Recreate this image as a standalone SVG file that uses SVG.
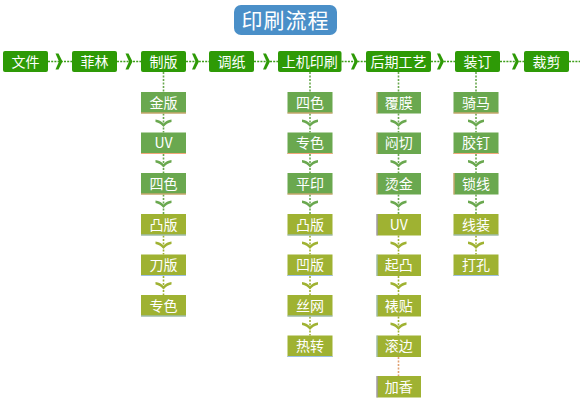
<svg xmlns="http://www.w3.org/2000/svg" width="580" height="416" viewBox="0 0 580 416">
<style>
text{font-family:"Noto Sans CJK SC","Liberation Sans",sans-serif;fill:#fff;text-anchor:middle;font-size:14px}
.top{fill:#2e9a06}
.g{fill:#6aa84f}
.o{fill:#9fb232}
.gb{stroke:#f2a67a;stroke-width:1}
.ob{stroke:#9cc0e4;stroke-width:1}
.hl{stroke:#3e9e1a;stroke-width:1.6;stroke-dasharray:2 1.2;fill:none}
.vl{stroke:#6aa84f;stroke-width:1.6;stroke-dasharray:2 1.5;fill:none}
.vlo{stroke:#9fb232;stroke-width:1.6;stroke-dasharray:2 1.5;fill:none}
.vlr{stroke:#e0a070;stroke-width:1.6;stroke-dasharray:2 1.5;fill:none}
.hc{fill:#2e9a06}
.cg{fill:#6aa84f}
.co{fill:#9fb232}
</style>
<defs>
<path id="hch" d="M0,-8 L3,-8 L7,0 L3,8 L0,8 L3.5,0 Z"/>
<path id="vch" d="M-8,-3.5 Q-3,-3 0,0.5 Q3,-3 8,-3.5 L8,-1 Q3,0 0,4 Q-3,0 -8,-1 Z"/>
</defs>

<g id="title">
<rect x="234" y="5" width="103" height="30" rx="7" fill="#4a8fc8"/>
<text x="285.5" y="27.5" style="font-size:21px;letter-spacing:1px">印刷流程</text>
</g>

<g id="connectors">
<path class="hl" d="M48,61.5H72 M117,61.5H141 M186,61.5H209 M254,61.5H278 M341.5,61.5H366 M431,61.5H455 M500,61.5H524 M569,61.5H580"/>
<use href="#hch" class="hc" x="55.5" y="61.5"/>
<use href="#hch" class="hc" x="125.5" y="61.5"/>
<use href="#hch" class="hc" x="192" y="61.5"/>
<use href="#hch" class="hc" x="263" y="61.5"/>
<use href="#hch" class="hc" x="351" y="61.5"/>
<use href="#hch" class="hc" x="437" y="61.5"/>
<use href="#hch" class="hc" x="512" y="61.5"/>
<path class="vl" d="M163.5,72V92 M163.5,113.5V132.5 M163.5,154V173 M163.5,194.5V214"/>
<path class="vlo" d="M163.5,235.5V254.5 M163.5,276V295"/>
<use href="#vch" class="cg" x="163.5" y="123"/>
<use href="#vch" class="cg" x="163.5" y="163.5"/>
<use href="#vch" class="cg" x="163.5" y="204"/>
<use href="#vch" class="co" x="163.5" y="245"/>
<use href="#vch" class="co" x="163.5" y="285.5"/>
<path class="vl" d="M310,72V92 M310,113.5V132.5 M310,154V173 M310,194.5V214"/>
<path class="vlo" d="M310,235.5V254.5 M310,276V295 M310,316.5V335.5"/>
<use href="#vch" class="cg" x="310" y="123"/>
<use href="#vch" class="cg" x="310" y="163.5"/>
<use href="#vch" class="cg" x="310" y="204"/>
<use href="#vch" class="co" x="310" y="245"/>
<use href="#vch" class="co" x="310" y="285.5"/>
<use href="#vch" class="co" x="310" y="326"/>
<path class="vl" d="M398.5,72V92 M398.5,113.5V132.5 M398.5,154V173 M398.5,194.5V214"/>
<path class="vlo" d="M398.5,235.5V254.5 M398.5,276V295 M398.5,316.5V335.5"/>
<path class="vlr" d="M398.5,357V376"/>
<use href="#vch" class="cg" x="398.5" y="123"/>
<use href="#vch" class="cg" x="398.5" y="163.5"/>
<use href="#vch" class="cg" x="398.5" y="204"/>
<use href="#vch" class="co" x="398.5" y="245"/>
<use href="#vch" class="co" x="398.5" y="285.5"/>
<use href="#vch" class="co" x="398.5" y="326"/>
<path class="vl" d="M476,72V92 M476,113.5V132.5 M476,154V173 M476,194.5V214"/>
<path class="vlo" d="M476,235.5V254.5"/>
<use href="#vch" class="cg" x="476" y="123"/>
<use href="#vch" class="cg" x="476" y="163.5"/>
<use href="#vch" class="cg" x="476" y="204"/>
<use href="#vch" class="co" x="476" y="245"/>
</g>

<g id="n-wenjian"><rect class="top" x="3" y="51" width="45" height="21" rx="2"/><text x="25.5" y="66.5">文件</text></g>
<g id="n-feilin"><rect class="top" x="72" y="51" width="45" height="21" rx="2"/><text x="94.5" y="66.5">菲林</text></g>
<g id="n-zhiban"><rect class="top" x="141" y="51" width="45" height="21" rx="2"/><text x="163.5" y="66.5">制版</text></g>
<g id="n-tiaozhi"><rect class="top" x="209" y="51" width="45" height="21" rx="2"/><text x="231.5" y="66.5">调纸</text></g>
<g id="n-shangji"><rect class="top" x="278" y="51" width="63.5" height="21" rx="2"/><text x="309.75" y="66.5">上机印刷</text></g>
<g id="n-houqi"><rect class="top" x="366" y="51" width="65" height="21" rx="2"/><text x="398.5" y="66.5">后期工艺</text></g>
<g id="n-zhuangding"><rect class="top" x="455" y="51" width="45" height="21" rx="2"/><text x="477.5" y="66.5">装订</text></g>
<g id="n-caijian"><rect class="top" x="524" y="51" width="45" height="21" rx="2"/><text x="546.5" y="66.5">裁剪</text></g>

<g id="zb-1"><rect class="g" x="141" y="92" width="45" height="21.5"/><path class="gb" d="M141,113H186"/><text x="163.5" y="107.8">金版</text></g>
<g id="zb-2"><rect class="g" x="141" y="132.5" width="45" height="21.5"/><path class="gb" d="M141,153.5H186"/><text x="163.5" y="148.3">UV</text></g>
<g id="zb-3"><rect class="g" x="141" y="173" width="45" height="21.5"/><path class="gb" d="M141,194H186"/><text x="163.5" y="188.8">四色</text></g>
<g id="zb-4"><rect class="o" x="141" y="214" width="45" height="21.5"/><path class="ob" d="M141,235H186"/><text x="163.5" y="229.8">凸版</text></g>
<g id="zb-5"><rect class="o" x="141" y="254.5" width="45" height="21.5"/><path class="ob" d="M141,275.5H186"/><text x="163.5" y="270.3">刀版</text></g>
<g id="zb-6"><rect class="o" x="141" y="295" width="45" height="21.5"/><path class="ob" d="M141,316H186"/><text x="163.5" y="310.8">专色</text></g>

<g id="sj-1"><rect class="g" x="287.5" y="92" width="45" height="21.5"/><path class="gb" d="M287.5,113H332.5"/><text x="310" y="107.8">四色</text></g>
<g id="sj-2"><rect class="g" x="287.5" y="132.5" width="45" height="21.5"/><path class="gb" d="M287.5,153.5H332.5"/><text x="310" y="148.3">专色</text></g>
<g id="sj-3"><rect class="g" x="287.5" y="173" width="45" height="21.5"/><path class="gb" d="M287.5,194H332.5"/><text x="310" y="188.8">平印</text></g>
<g id="sj-4"><rect class="o" x="287.5" y="214" width="45" height="21.5"/><path class="ob" d="M287.5,235H332.5"/><text x="310" y="229.8">凸版</text></g>
<g id="sj-5"><rect class="o" x="287.5" y="254.5" width="45" height="21.5"/><path class="ob" d="M287.5,275.5H332.5"/><text x="310" y="270.3">凹版</text></g>
<g id="sj-6"><rect class="o" x="287.5" y="295" width="45" height="21.5"/><path class="ob" d="M287.5,316H332.5"/><text x="310" y="310.8">丝网</text></g>
<g id="sj-7"><rect class="o" x="287.5" y="335.5" width="45" height="21.5"/><path class="ob" d="M287.5,356.5H332.5"/><text x="310" y="351.3">热转</text></g>

<g id="hq-1"><rect class="g" x="376.5" y="92" width="44.5" height="21.5"/><path class="gb" d="M377,92V113.5"/><text x="398.75" y="107.8">覆膜</text></g>
<g id="hq-2"><rect class="g" x="376.5" y="132.5" width="44.5" height="21.5"/><path class="gb" d="M377,132.5V154"/><text x="398.75" y="148.3">闷切</text></g>
<g id="hq-3"><rect class="g" x="376.5" y="173" width="44.5" height="21.5"/><path class="gb" d="M377,173V194.5"/><text x="398.75" y="188.8">烫金</text></g>
<g id="hq-4"><rect class="o" x="376.5" y="214" width="44.5" height="21.5"/><path class="ob" d="M377,214V235.5" style="stroke:#a08ce0"/><text x="398.75" y="229.8">UV</text></g>
<g id="hq-5"><rect class="o" x="376.5" y="254.5" width="44.5" height="21.5"/><path class="ob" d="M377,254.5V276"/><text x="398.75" y="270.3">起凸</text></g>
<g id="hq-6"><rect class="o" x="376.5" y="295" width="44.5" height="21.5"/><path class="ob" d="M377,295V316.5"/><text x="398.75" y="310.8">裱贴</text></g>
<g id="hq-7"><rect class="o" x="376.5" y="335.5" width="44.5" height="21.5"/><path class="ob" d="M377,335.5V357"/><text x="398.75" y="351.3">滚边</text></g>
<g id="hq-8"><rect class="o" x="376.5" y="376" width="44.5" height="21.5"/><path class="ob" d="M377,376V397.5" style="stroke:#a08ce0"/><text x="398.75" y="391.8">加香</text></g>

<g id="zd-1"><rect class="g" x="453.5" y="92" width="45" height="21.5"/><path class="gb" d="M453.5,113H498.5"/><text x="476" y="107.8">骑马</text></g>
<g id="zd-2"><rect class="g" x="453.5" y="132.5" width="45" height="21.5"/><path class="gb" d="M453.5,153.5H498.5"/><text x="476" y="148.3">胶钉</text></g>
<g id="zd-3"><rect class="g" x="453.5" y="173" width="45" height="21.5"/><path class="gb" d="M454,173V194.5"/><text x="476" y="188.8">锁线</text></g>
<g id="zd-4"><rect class="o" x="453.5" y="214" width="45" height="21.5"/><path class="ob" d="M453.5,235H498.5"/><text x="476" y="229.8">线装</text></g>
<g id="zd-5"><rect class="o" x="453.5" y="254.5" width="45" height="21.5"/><path class="ob" d="M453.5,275.5H498.5"/><text x="476" y="270.3">打孔</text></g>
</svg>
